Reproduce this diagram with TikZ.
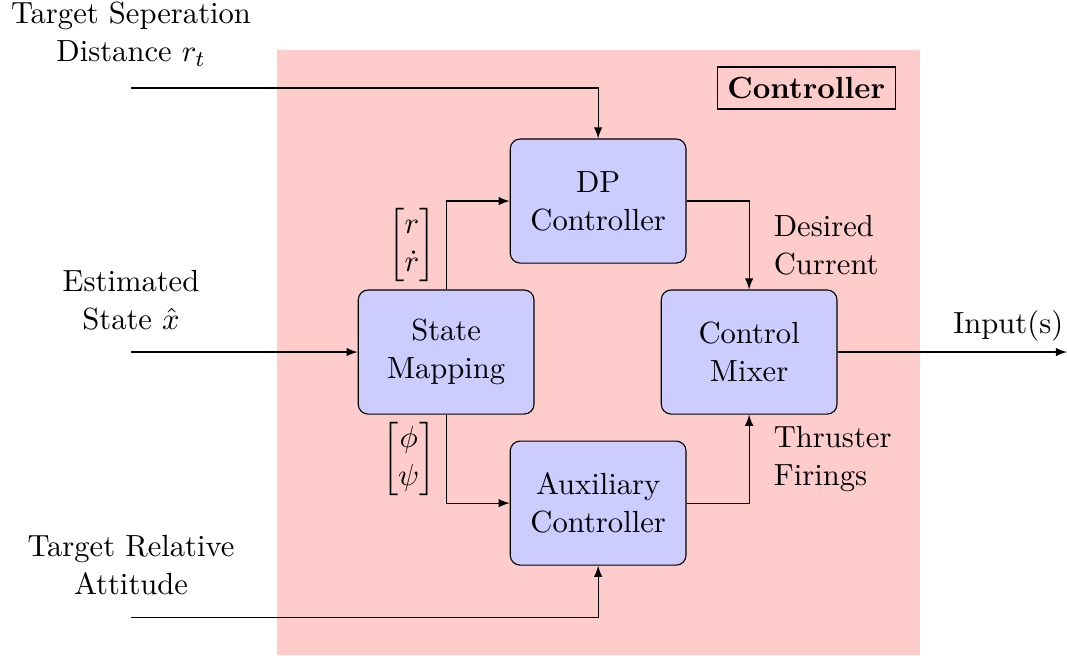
\documentclass[tikz,border=0pt,11pt]{standalone}
\usepackage{amsmath}
\usetikzlibrary{arrows}

\tikzstyle{block}    = [draw, fill=blue!20, rounded corners=3.5pt, minimum width=2.21cm, minimum height=1.56cm, align=center]
\tikzstyle{signal}   = [->, >=latex]
\tikzstyle{inlabel}  = [align=center, above=4pt]
\tikzstyle{vlabel}   = [right=5pt, align=left]

\begin{document}
\begin{tikzpicture}
    \useasboundingbox (0,0) rectangle (13.42,8.24);
    \fill[red!20] (3.485,0) rectangle (11.574,7.611);
    \node[draw, font=\bfseries] (ctrl) at (10.14,7.133) {Controller};

    \node[block] (dp)  at (7.523,5.711) {DP\\Controller};
    \node[block] (map) at (5.611,3.812) {State\\Mapping};
    \node[block] (mix) at (9.422,3.812) {Control\\Mixer};
    \node[block] (aux) at (7.523,1.912) {Auxiliary\\Controller};

    \coordinate (rt)   at (1.648,7.133);
    \coordinate (xhat) at (1.648,3.812);
    \coordinate (att)  at (1.648,0.478);
    \coordinate (out)  at (13.42,3.812);

    \node[inlabel] (rtlbl)   at (rt)   {Target Seperation\\Distance $r_t$};
    \node[inlabel] (xhatlbl) at (xhat) {Estimated\\State $\hat{x}$};
    \node[inlabel] (attlbl)  at (att)  {Target Relative\\Attitude};

    \draw[signal] (rt) -| (dp);
    \draw[signal] (xhat) -- (map);
    \draw[signal] (att) -| (aux);
    \draw[signal] (map) |- (dp)
        node[pos=0.25, left] (poslbl) {$\begin{bmatrix} r\\ \dot{r} \end{bmatrix}$};
    \draw[signal] (map) |- (aux)
        node[pos=0.25, left] (anglbl) {$\begin{bmatrix} \phi\\ \psi \end{bmatrix}$};
    \draw[signal] (dp) -| (mix)
        node[pos=0.75, vlabel] (curlbl) {Desired\\Current};
    \draw[signal] (aux) -| (mix)
        node[pos=0.75, vlabel] (firelbl) {Thruster\\Firings};
    \draw[signal] (mix) -- (out) node[above left, xshift=2.5pt] (outlbl) {Input(s)};
\end{tikzpicture}
\end{document}
